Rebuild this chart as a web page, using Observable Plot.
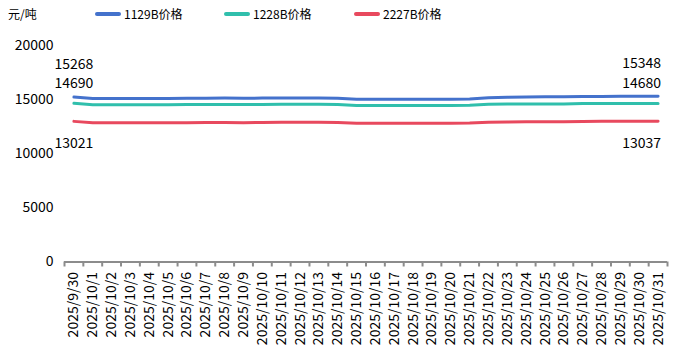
<!DOCTYPE html>
<html>
<head>
<meta charset="utf-8">
<script src="https://cdn.jsdelivr.net/npm/d3@7"></script>
<script src="https://cdn.jsdelivr.net/npm/@observablehq/plot@0.6"></script>
<style>
  html, body { margin: 0; padding: 0; background: #fff; }
  body { width: 686px; height: 361px; overflow: hidden; font-family: "Noto Sans CJK SC", "Noto Sans", sans-serif; }
  #legend { position: relative; height: 30px; font-size: 12px; color: #000; }
  #legend .t { position: absolute; top: 5px; line-height: 18px; white-space: nowrap; }
  #legend .sw { position: absolute; top: 12px; height: 4px; border-radius: 2px; width: 26px; }
</style>
</head>
<body>
<div id="legend"></div>
<div id="chart"></div>
<script>
const dates = ["2025/9/30","2025/10/1","2025/10/2","2025/10/3","2025/10/4","2025/10/5","2025/10/6","2025/10/7","2025/10/8","2025/10/9","2025/10/10","2025/10/11","2025/10/12","2025/10/13","2025/10/14","2025/10/15","2025/10/16","2025/10/17","2025/10/18","2025/10/19","2025/10/20","2025/10/21","2025/10/22","2025/10/23","2025/10/24","2025/10/25","2025/10/26","2025/10/27","2025/10/28","2025/10/29","2025/10/30","2025/10/31"];
const seriesNames = ["1129B价格", "1228B价格", "2227B价格"];
const colors = ["#4472CC", "#30BFAC", "#E8495E"];
const price1129B = [15268,15150,15150,15150,15150,15150,15160,15170,15180,15160,15180,15190,15190,15190,15160,15080,15070,15070,15070,15070,15080,15100,15200,15260,15280,15290,15300,15320,15330,15340,15340,15348];
const price1228B = [14690,14570,14570,14570,14570,14570,14575,14580,14590,14580,14590,14600,14600,14600,14580,14500,14490,14490,14490,14490,14500,14520,14600,14620,14630,14630,14640,14670,14675,14680,14680,14680];
const price2227B = [13021,12900,12900,12900,12900,12900,12905,12910,12920,12900,12920,12930,12930,12930,12910,12850,12840,12840,12840,12840,12850,12870,12950,12970,12980,12980,12990,13020,13025,13030,13035,13037];
const yTicks = [0, 5000, 10000, 15000, 20000];
const unitLabel = "元/吨";
const labelOffsets = [-33, -20, 22];

// legend
const legend = document.getElementById("legend");
const u = document.createElement("span"); u.className = "t"; u.style.left = "8px"; u.textContent = unitLabel; legend.appendChild(u);
const swX = [95, 224, 354];
seriesNames.forEach((n, k) => {
  const s = document.createElement("span"); s.className = "sw"; s.style.left = swX[k] + "px"; s.style.background = colors[k]; legend.appendChild(s);
  const t = document.createElement("span"); t.className = "t"; t.style.left = (swX[k] + 29) + "px"; t.textContent = n; legend.appendChild(t);
});

const allSeries = [price1129B, price1228B, price2227B];
const rows = [];
allSeries.forEach((arr, k) => arr.forEach((v, i) => rows.push({i, date: dates[i], value: v, series: seriesNames[k]})));
const idx = dates.map((d, i) => i);
const bounds = d3.range(dates.length + 1).map(i => i - 0.5);
const firstLabels = allSeries.map((arr, k) => ({i: 0, value: arr[0], series: seriesNames[k], dy: labelOffsets[k]}));
const lastLabels = allSeries.map((arr, k) => ({i: arr.length - 1, value: arr[arr.length - 1], series: seriesNames[k], dy: labelOffsets[k]}));

const fontSize = 14;
const chart = Plot.plot({
  width: 686,
  height: 331,
  marginLeft: 64,
  marginRight: 19,
  marginTop: 15.5,
  marginBottom: 99.5,
  style: {fontFamily: '"Noto Sans CJK SC", "Noto Sans", sans-serif', fontSize: fontSize + "px", color: "#000", background: "#fff"},
  x: {type: "linear", domain: [-0.5, dates.length - 0.5]},
  y: {domain: [0, 20000]},
  color: {domain: seriesNames, range: colors},
  marks: [
    Plot.axisY({ticks: yTicks, tickSize: 0, tickPadding: 11, tickFormat: d => String(d), fontSize: fontSize, label: null}),
    Plot.axisX({ticks: idx, tickSize: 0, tickPadding: 10, tickRotate: -90, tickFormat: i => dates[i], fontSize: fontSize, label: null}),
    Plot.ruleY([0], {stroke: "#8c8c8c", strokeWidth: 2}),
    Plot.axisX({ticks: bounds, tickSize: 5, tickFormat: () => "", stroke: "#8c8c8c", strokeWidth: 2, strokeOpacity: 1, label: null}),
    Plot.line(rows, {x: "i", y: "value", z: "series", stroke: "series", strokeWidth: 3, strokeLinejoin: "round", strokeLinecap: "round"}),
    ...firstLabels.map(d => Plot.text([d], {x: "i", y: "value", text: d => String(d.value), dy: d.dy, textAnchor: "middle", fontSize: fontSize, fill: "#000"})),
    ...lastLabels.map(d => Plot.text([d], {x: "i", y: "value", text: d => String(d.value), dy: d.dy, dx: 3, textAnchor: "end", fontSize: fontSize, fill: "#000"}))
  ]
});
document.getElementById("chart").appendChild(chart);
</script>
</body>
</html>
